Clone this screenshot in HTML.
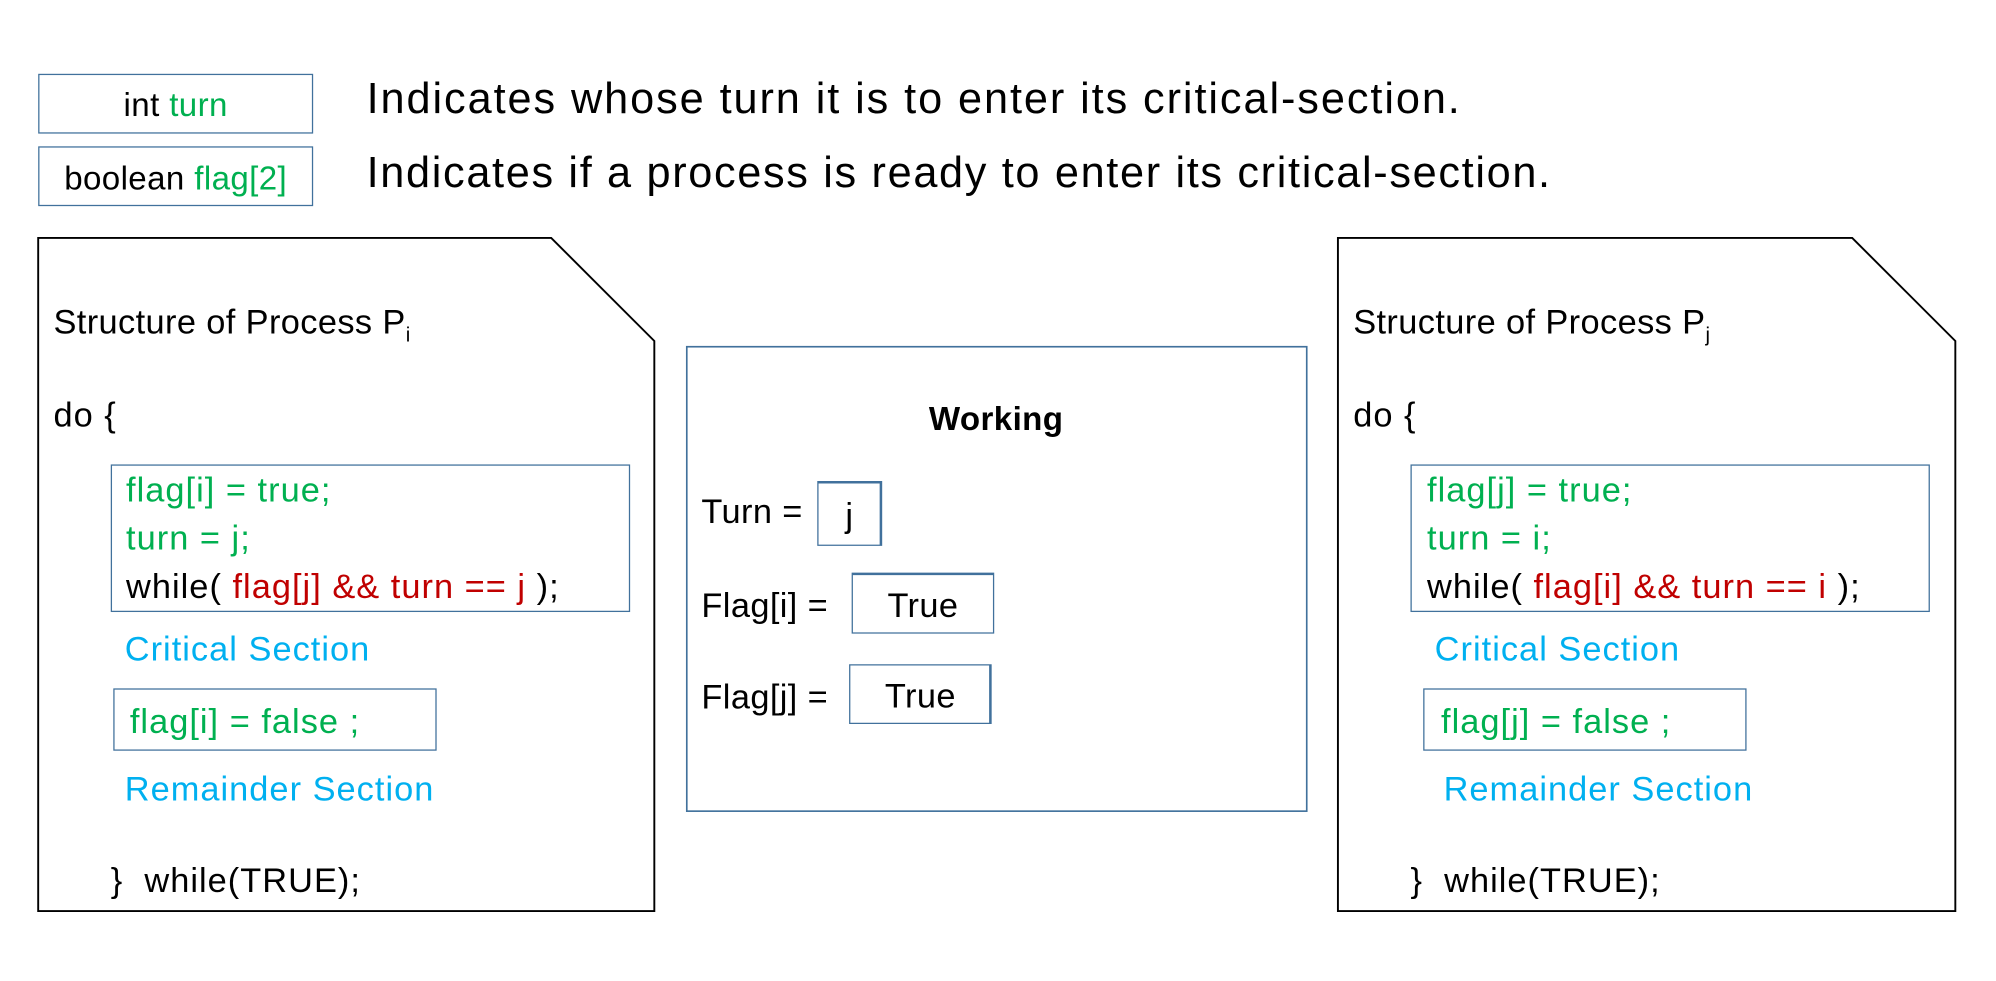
<!DOCTYPE html>
<html><head><meta charset="utf-8"><style>
html,body{margin:0;padding:0;background:#fff;}
body{width:1996px;height:981px;overflow:hidden;position:relative;}
#s{position:absolute;left:0;top:0;width:1568px;height:771px;transform:scale(1.273,1.2724);transform-origin:0 0;font-family:"Liberation Sans",sans-serif;}
.t{position:absolute;white-space:nowrap;font-size:27px;color:#000;line-height:1;letter-spacing:0.8px;}
.b{position:absolute;border:1.3px solid #41719c;box-sizing:border-box;}
.g{color:#00b050}.r{color:#c00000}.c{color:#00b0f0}
</style></head><body><div id="s">
<div class="b" style="left:30px;top:58px;width:216px;height:47px"></div>
<div class="t" style="left:30px;width:216px;text-align:center;top:69px;font-size:26px;letter-spacing:0.3px">int <span class="g">turn</span></div>
<div class="b" style="left:30px;top:115px;width:216px;height:47px"></div>
<div class="t" style="left:30px;width:216px;text-align:center;top:127px;font-size:26px;letter-spacing:0.3px">boolean <span class="g">flag[2]</span></div>
<div class="t" style="left:288px;top:61px;font-size:34px;letter-spacing:1.5px">Indicates whose turn it is to enter its critical-section.</div>
<div class="t" style="left:288px;top:119px;font-size:34px;letter-spacing:1.3px">Indicates if a process is ready to enter its critical-section.</div>
<svg style="position:absolute;left:0;top:0" width="1568" height="771">
<path d="M30 187 H433 L514 268 V716 H30 Z" fill="none" stroke="#000" stroke-width="1.5"/>
<path d="M1051 187 H1455 L1536 268 V716 H1051 Z" fill="none" stroke="#000" stroke-width="1.5"/>
<rect x="539.5" y="272.5" width="487" height="365" fill="none" stroke="#41719c" stroke-width="1.3"/>
</svg>
<!-- left -->
<div class="t" style="left:42px;top:240px;letter-spacing:0.3px">Structure of Process P<sub style="font-size:16px">i</sub></div>
<div class="t" style="left:42px;top:313px">do {</div>
<div class="b" style="left:87px;top:365px;width:408px;height:116px"></div>
<div class="t g" style="left:99px;top:372px">flag[i] = true;</div>
<div class="t g" style="left:99px;top:410px">turn = j;</div>
<div class="t" style="left:99px;top:448px">while( <span class="r">flag[j] &amp;&amp; turn == j</span> );</div>
<div class="t c" style="left:98px;top:497px">Critical Section</div>
<div class="b" style="left:89px;top:541px;width:254px;height:49px"></div>
<div class="t g" style="left:102px;top:554px">flag[i] = false ;</div>
<div class="t c" style="left:98px;top:607px">Remainder Section</div>
<div class="t" style="left:87px;top:679px">}&nbsp; while(TRUE);</div>
<!-- right -->
<div class="t" style="left:1063px;top:240px;letter-spacing:0.3px">Structure of Process P<sub style="font-size:16px">j</sub></div>
<div class="t" style="left:1063px;top:313px">do {</div>
<div class="b" style="left:1108px;top:365px;width:408px;height:116px"></div>
<div class="t g" style="left:1121px;top:372px">flag[j] = true;</div>
<div class="t g" style="left:1121px;top:410px">turn = i;</div>
<div class="t" style="left:1121px;top:448px">while( <span class="r">flag[i] &amp;&amp; turn == i</span> );</div>
<div class="t c" style="left:1127px;top:497px">Critical Section</div>
<div class="b" style="left:1118px;top:541px;width:254px;height:49px"></div>
<div class="t g" style="left:1132px;top:554px">flag[j] = false ;</div>
<div class="t c" style="left:1134px;top:607px">Remainder Section</div>
<div class="t" style="left:1108px;top:679px">}&nbsp; while(TRUE);</div>
<!-- middle -->
<div class="t" style="left:539px;width:487px;text-align:center;top:316px;font-weight:bold;font-size:26px;letter-spacing:0.3px">Working</div>
<div class="t" style="left:551px;top:389px;letter-spacing:0.3px">Turn =</div>
<div class="b" style="left:642px;top:378px;width:51px;height:51px;border-width:2px 2.5px 1.5px 1.3px"></div>
<div class="t" style="left:642px;width:51px;text-align:center;top:392px">j</div>
<div class="t" style="left:551px;top:463px;letter-spacing:0.3px">Flag[i] =</div>
<div class="b" style="left:669px;top:450px;width:112px;height:48px;border-width:2.5px 1.3px 1.3px 1.3px"></div>
<div class="t" style="left:669px;width:112px;text-align:center;top:463px;letter-spacing:0.3px">True</div>
<div class="t" style="left:551px;top:535px;letter-spacing:0.3px">Flag[j] =</div>
<div class="b" style="left:667px;top:522px;width:112px;height:47px;border-width:1.3px 2.5px 1.3px 1.3px"></div>
<div class="t" style="left:667px;width:112px;text-align:center;top:534px;letter-spacing:0.3px">True</div>
</div></body></html>
